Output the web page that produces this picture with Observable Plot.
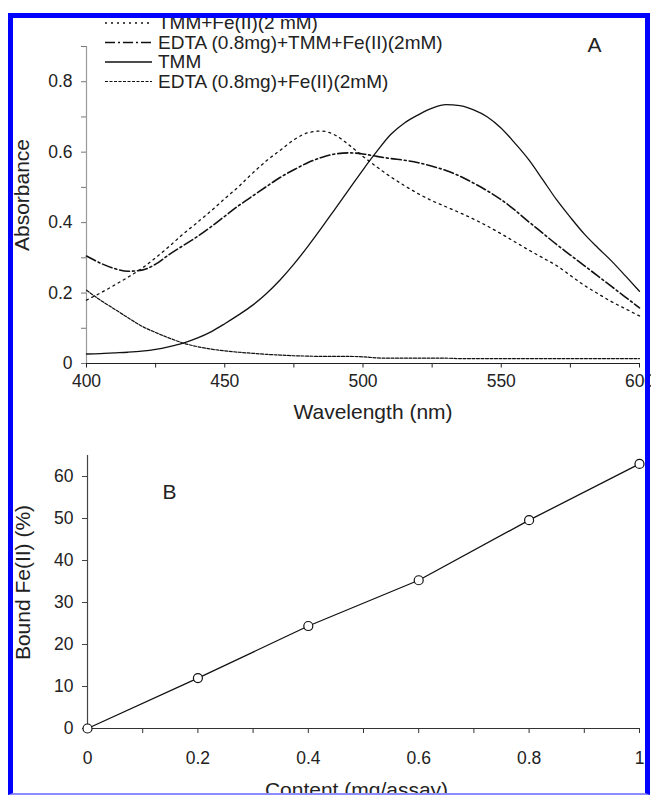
<!DOCTYPE html>
<html><head><meta charset="utf-8">
<script src="https://cdn.jsdelivr.net/npm/d3@7"></script>
<script src="https://cdn.jsdelivr.net/npm/@observablehq/plot@0.6"></script>
<style>
html,body{margin:0;padding:0;background:#fff;}
body{width:651px;height:795px;position:relative;overflow:hidden;font-family:"Liberation Sans",Arial,sans-serif;}
#a,#b,#legend,#frame{position:absolute;left:0;}
#a{top:0;z-index:1;} #b{top:430px;z-index:1;} #legend{top:0;z-index:5;}
#frame{left:8px;top:13px;width:642px;height:782px;box-sizing:border-box;border:5px solid #0000ff;border-bottom:2px solid #8c8cff;z-index:10;pointer-events:none;}
</style></head><body>
<div id="a"></div><div id="b"></div><div id="legend"></div><div id="frame"></div>
<script>
// ---- Panel A data: absorbance spectra ----
const wavelengths = [400,405,410,415,420,425,430,435,440,445,450,455,460,465,470,475,480,485,490,495,500,505,510,515,520,525,530,535,540,545,550,555,560,565,570,575,580,585,590,595,600];
const tmmFe = [0.180,0.200,0.222,0.245,0.270,0.300,0.333,0.368,0.400,0.433,0.468,0.502,0.540,0.575,0.605,0.635,0.655,0.660,0.648,0.620,0.588,0.558,0.530,0.505,0.482,0.462,0.445,0.428,0.410,0.390,0.368,0.345,0.322,0.300,0.278,0.250,0.222,0.198,0.175,0.155,0.135];
const edtaTmmFe = [0.305,0.285,0.270,0.262,0.265,0.282,0.310,0.335,0.360,0.388,0.418,0.448,0.475,0.502,0.528,0.550,0.570,0.585,0.595,0.598,0.595,0.588,0.582,0.577,0.570,0.560,0.548,0.532,0.512,0.490,0.465,0.435,0.402,0.370,0.338,0.308,0.278,0.248,0.218,0.188,0.158];
const tmm = [0.027,0.028,0.030,0.032,0.035,0.040,0.048,0.058,0.072,0.090,0.113,0.138,0.165,0.198,0.237,0.282,0.332,0.385,0.440,0.495,0.550,0.602,0.650,0.683,0.706,0.725,0.735,0.732,0.720,0.700,0.668,0.625,0.578,0.522,0.465,0.415,0.368,0.328,0.290,0.248,0.205];
const edtaFe = [0.208,0.180,0.155,0.130,0.106,0.088,0.072,0.058,0.048,0.041,0.036,0.032,0.029,0.026,0.024,0.022,0.021,0.020,0.020,0.020,0.019,0.016,0.015,0.015,0.015,0.015,0.015,0.014,0.014,0.014,0.014,0.014,0.014,0.014,0.014,0.014,0.014,0.014,0.014,0.014,0.014];
const seriesNames = ["TMM+Fe(II)(2 mM)", "EDTA (0.8mg)+TMM+Fe(II)(2mM)", "TMM", "EDTA (0.8mg)+Fe(II)(2mM)"];
const yTicksA = [0,0.1,0.2,0.3,0.4,0.5,0.6,0.7,0.8,0.9];
const xTicksA = [400,425,450,475,500,525,550,575,600];

// ---- Panel B data: bound Fe(II) ----
const contents = [0,0.2,0.4,0.6,0.8,1];
const boundFe = [0,12,24.4,35.3,49.6,63];
const yTicksB = [0,10,20,30,40,50,60];
const xTicksB = [0,0.1,0.2,0.3,0.4,0.5,0.6,0.7,0.8,0.9,1];

const font = '"Liberation Sans", Arial, sans-serif';
const seriesValues = [tmmFe, edtaTmmFe, tmm, edtaFe];
const seriesStyle = [
  {dash:"2,4", width:1.3},
  {dash:"10,3,2,3", width:1.6},
  {dash:null, width:1.3},
  {dash:"3,1.5", width:1.2}
];

const lineMarks = seriesValues.map((vals, k) =>
  Plot.line(wavelengths, {x: wavelengths, y: vals, stroke:"#111", strokeWidth: seriesStyle[k].width,
    strokeDasharray: seriesStyle[k].dash || undefined, curve:"monotone-x"}));

const titleOpts = {fontSize:21, fill:"#222", textAnchor:"middle", lineAnchor:"middle"};

const plotA = Plot.plot({
  width:651, height:430, marginLeft:86, marginRight:12, marginTop:46, marginBottom:67,
  style:{fontFamily:font, fontSize:"17.5px", color:"#222", background:"transparent", overflow:"visible"},
  x:{domain:[400,600]}, y:{domain:[0,0.9]},
  marks:[
    Plot.axisY(yTicksA, {tickSize:5, tickPadding:9, label:null, stroke:"#777", fill:"#222", fontSize:17.5,
      tickFormat: d => (Math.round(d*10) % 2 === 0) ? (d === 0 ? "0" : d.toFixed(1)) : ""}),
    Plot.axisX(xTicksA, {tickSize:4.5, tickPadding:6.5, label:null, stroke:"#222", fill:"#222", fontSize:17.5,
      tickFormat: d => d % 50 === 0 ? String(d) : ""}),
    Plot.ruleX([400], {stroke:"#999", strokeWidth:1.2}),
    Plot.ruleY([0], {stroke:"#222", strokeWidth:1.2}),
    ...lineMarks,
    Plot.text(["Absorbance"], {...titleOpts, frameAnchor:"left", rotate:-90, dx:-64, dy:-10}),
    Plot.text(["Wavelength (nm)"], {...titleOpts, frameAnchor:"bottom", dx:10, dy:49}),
    Plot.text(["A"], {...titleOpts, frameAnchor:"top-right", dx:-45, dy:-1})
  ]
});
document.getElementById("a").appendChild(plotA);

const plotB = Plot.plot({
  width:651, height:365, marginLeft:87, marginRight:12, marginTop:25, marginBottom:67,
  style:{fontFamily:font, fontSize:"17.5px", color:"#222", background:"transparent", overflow:"visible"},
  x:{domain:[0,1]}, y:{domain:[0,65]},
  marks:[
    Plot.axisY(yTicksB, {tickSize:5, tickPadding:9, label:null, stroke:"#444", fill:"#222", fontSize:17.5}),
    Plot.axisX(xTicksB, {tickSize:5, tickPadding:18.5, label:null, stroke:"#333", fill:"#222", fontSize:17.5,
      tickFormat: d => (Math.round(d*10) % 2 === 0) ? String(+d.toFixed(1)) : ""}),
    Plot.ruleX([0], {stroke:"#444", strokeWidth:1.2}),
    Plot.ruleY([0], {stroke:"#333", strokeWidth:1.2}),
    Plot.line(contents, {x:contents, y:boundFe, stroke:"#111", strokeWidth:1.3}),
    Plot.dot(contents, {x:contents, y:boundFe, r:4.5, fill:"white", stroke:"#111", strokeWidth:1.2}),
    Plot.text(["Bound Fe(II) (%)"], {...titleOpts, frameAnchor:"left", rotate:-90, dx:-64, dy:-9.5}),
    Plot.text(["Content (mg/assay)"], {...titleOpts, frameAnchor:"bottom", dx:-7, dy:62}),
    Plot.text(["B"], {...titleOpts, frameAnchor:"top-left", dx:82, dy:37})
  ]
});
document.getElementById("b").appendChild(plotB);

// ---- Legend (panel A) ----
const ns = "http://www.w3.org/2000/svg";
const lg = document.createElementNS(ns, "svg");
lg.setAttribute("width", 651); lg.setAttribute("height", 100);
const baselines = [29, 48.5, 68, 87.5];
seriesNames.forEach((name, k) => {
  const ln = document.createElementNS(ns, "line");
  ln.setAttribute("x1", 105); ln.setAttribute("x2", 152);
  ln.setAttribute("y1", baselines[k] - 6); ln.setAttribute("y2", baselines[k] - 6);
  ln.setAttribute("stroke", "#111"); ln.setAttribute("stroke-width", seriesStyle[k].width);
  if (seriesStyle[k].dash) ln.setAttribute("stroke-dasharray", seriesStyle[k].dash);
  lg.appendChild(ln);
  const t = document.createElementNS(ns, "text");
  t.setAttribute("x", 158); t.setAttribute("y", baselines[k]);
  t.setAttribute("font-family", font); t.setAttribute("font-size", 19); t.setAttribute("fill", "#222");
  t.textContent = name;
  lg.appendChild(t);
});
document.getElementById("legend").appendChild(lg);
</script>
</body></html>
